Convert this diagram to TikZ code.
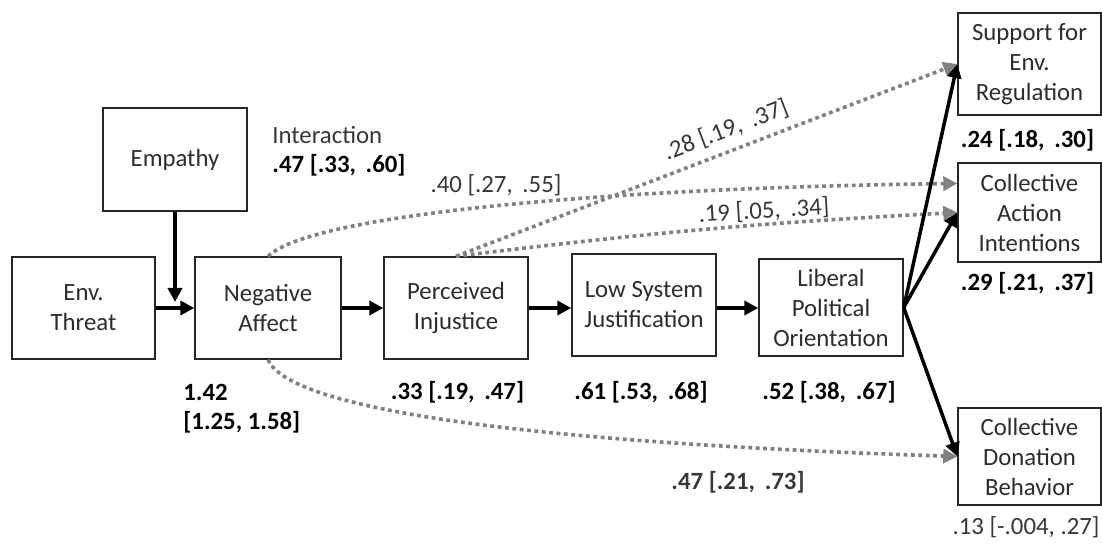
\documentclass[tikz,border=0pt]{standalone}
\usepackage{fontspec}
\setmainfont{Carlito}
\usetikzlibrary{arrows.meta}
\definecolor{boxtext}{RGB}{45,45,45}
\definecolor{dotgray}{RGB}{128,128,128}
\definecolor{labgray}{RGB}{55,55,55}
\tikzset{
  box/.style={draw=black!85, line width=0.7pt, fill=white, inner sep=0pt, align=center,
    text=boxtext, font=\fontsize{12.4}{15}\selectfont},
  lab/.style={inner sep=0pt, font=\fontsize{12.4}{15}\selectfont\bfseries, text=black},
  rlab/.style={inner sep=0pt, font=\fontsize{12.4}{15}\selectfont, text=labgray},
  solidarrow/.style={line width=1.75pt, black, -{Triangle[length=7pt,width=7pt]}},
  dotarrow/.style={line width=1.8pt, dotgray, dash pattern=on 1.9pt off 1.8pt,
    -{Triangle[length=7pt,width=7pt]}},
}
\begin{document}
\begin{tikzpicture}[x=0.5pt,y=-0.5pt]
\useasboundingbox (0,0) rectangle (1102,544);

\node[box, minimum width=72pt, minimum height=51.5pt] (emp) at (175,159.5) {Empathy};
\node[box, minimum width=71.5pt, minimum height=51pt] (env) at (83.5,308) {Env.\\Threat};
\node[box, minimum width=73pt, minimum height=51pt] (neg) at (268,308) {Negative\\Affect};
\node[box, minimum width=72pt, minimum height=51pt] (per) at (456,308) {Perceived\\Injustice};
\node[box, minimum width=72pt, minimum height=51pt] (low) at (644,305) {Low System\\Justification};
\node[box, minimum width=72pt, minimum height=48.5pt] (lib) at (831,307.5) {Liberal\\Political\\Orientation};
\node[box, minimum width=71.5pt, minimum height=51pt] (sup) at (1029.5,64) {Support for\\Env.\\Regulation};
\node[box, minimum width=71.5pt, minimum height=49.5pt] (cai) at (1029.5,212.5) {Collective\\Action\\Intentions};
\node[box, minimum width=71.5pt, minimum height=48.5pt] (cdb) at (1029.5,456.5) {Collective\\Donation\\Behavior};

% dotted paths
\draw[dotarrow] (neg.north) .. controls (310,215) and (600,188) .. ([yshift=14.5pt]cai.west);
\draw[dotarrow] (per.north) -- (sup.west);
\draw[dotarrow] (per.north) to[bend left=2] (cai.west);
\draw[dotarrow] (neg.south) .. controls (285,400) and (450,440) .. (cdb.west);

% solid paths
\coordinate (ej) at (175,302);
\draw[solidarrow] (emp.south) -- (ej);
\draw[solidarrow] (env.east) -- (neg.west);
\draw[solidarrow] (neg.east) -- (per.west);
\draw[solidarrow] (per.east) -- (per.east -| low.west);
\draw[solidarrow] (low.east |- per.east) -- (per.east -| lib.west);
\draw[solidarrow] (lib.east) -- (sup.west);
\draw[solidarrow] (lib.east) -- (cai.west);
\draw[solidarrow] (lib.east) -- (cdb.west);

% labels
\node[rlab, anchor=west] (inta) at (272,135) {Interaction};
\node[lab, anchor=west] (intb) at (272,165) {.47 [.33,\ \,.60]};
\node[rlab] (l40) at (496,185) {.40 [.27,\ \,.55]};
\node[rlab, rotate=21] (l28) at (726,130) {.28 [.19,\ \,.37]};
\node[rlab, rotate=3.5] (l19) at (764,211) {.19 [.05,\ \,.34]};
\node[lab] (l24) at (1027.5,140) {.24 [.18,\ \,.30]};
\node[lab] (l29) at (1027.5,283) {.29 [.21,\ \,.37]};
\node[lab, anchor=west] (l142a) at (183,392) {1.42};
\node[lab, anchor=west] (l142b) at (183,422) {[1.25, 1.58]};
\node[lab] (l33) at (457.5,392) {.33 [.19,\ \,.47]};
\node[lab] (l61) at (641,392) {.61 [.53,\ \,.68]};
\node[lab] (l52) at (829,392) {.52 [.38,\ \,.67]};
\node[lab, text=labgray] (l47) at (738,482) {.47 [.21,\ \,.73]};
\node[rlab] (l13) at (1026,527) {.13 [-.004, .27]};
\end{tikzpicture}
\end{document}
